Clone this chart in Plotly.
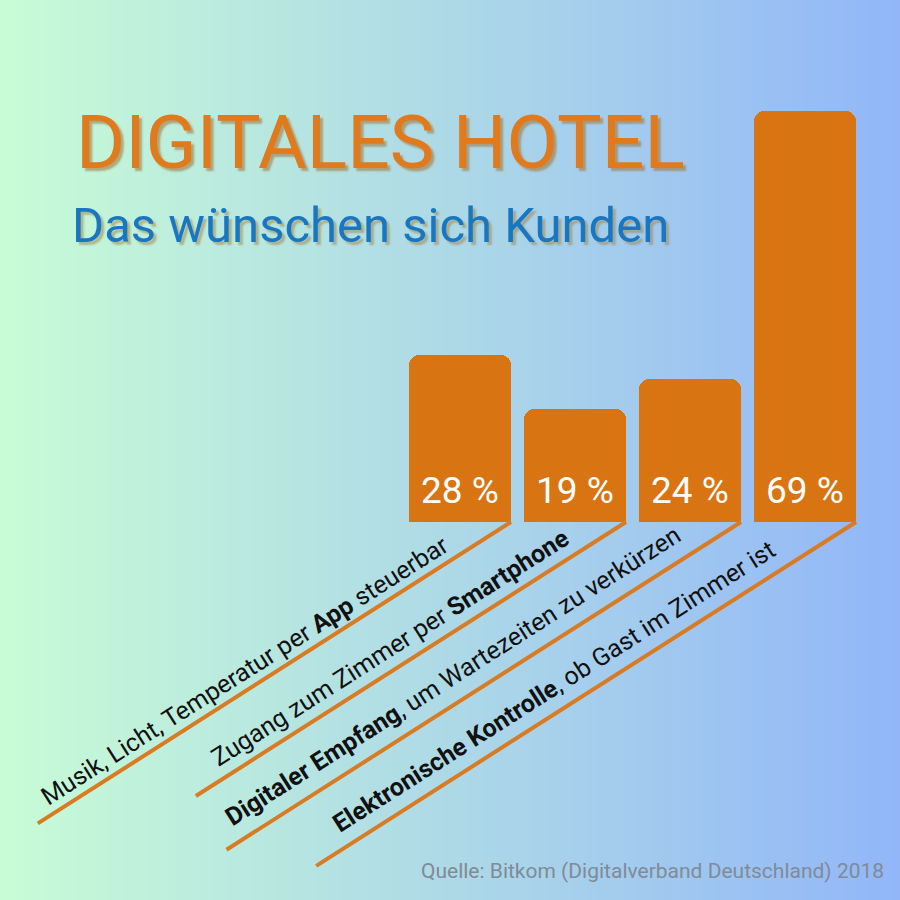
import math
import plotly.graph_objects as go

# ---- data ----
labels = [
    "Musik, Licht, Temperatur per <b>App</b> steuerbar",
    "Zugang zum Zimmer per <b>Smartphone</b>",
    "<b>Digitaler Empfang</b>, um Wartezeiten zu verkürzen",
    "<b>Elektronische Kontrolle</b>, ob Gast im Zimmer ist",
]
values = [28, 19, 24, 69]
value_texts = [f"{v} %" for v in values]
title = "DIGITALES HOTEL"
subtitle = "Das wünschen sich Kunden"
source = "Quelle: Bitkom (Digitalverband Deutschland) 2018"

# ---- styling / layout constants ----
W = H = 900
PX_PER_CAT = 115.0      # pixels between bar centres
PX_PER_UNIT = 5.96      # pixels per percent
BASE_PX = 522           # pixel row of the bar base
FIRST_CENTER_PX = 460   # pixel column of the first bar centre
BAR_W = 102 / PX_PER_CAT
ORANGE = "#d97412"
LINE_COL = "#d97b22"
ANGLE = 32.5
line_len_px = [561, 510, 610, 640]        # connector lengths
label_along_px = [257, 244, 285, 297]     # text centre along connector (from its lower end)
label_perp_px = [18, 21, 25, 23]          # text centre offset above connector

x_rng = [-FIRST_CENTER_PX / PX_PER_CAT, (W - FIRST_CENTER_PX) / PX_PER_CAT]
y_rng = [-(H - BASE_PX) / PX_PER_UNIT, BASE_PX / PX_PER_UNIT]

fig = go.Figure()

# background gradient (heatmap layer sits beneath bars)
fig.add_trace(go.Heatmap(
    x=[x_rng[0], x_rng[1]], y=[y_rng[0], y_rng[1]], z=[[0, 1], [0, 1]],
    zsmooth="best", colorscale=[[0, "#c8fcd6"], [1, "#92b6f8"]],
    showscale=False, hoverinfo="skip"))

xs = list(range(len(values)))
fig.add_trace(go.Bar(
    x=xs, y=values, width=BAR_W,
    marker=dict(color=ORANGE, line=dict(width=0), cornerradius=10),
    hoverinfo="skip", showlegend=False))

th = math.radians(ANGLE)
ux, uy = math.cos(th), math.sin(th)
annotations = []
for i, (lab, L, a, p) in enumerate(zip(labels, line_len_px, label_along_px, label_perp_px)):
    x_end = xs[i] + BAR_W / 2
    y_end = 0
    x_start = x_end - L * ux / PX_PER_CAT
    y_start = y_end - L * uy / PX_PER_UNIT
    fig.add_trace(go.Scatter(
        x=[x_start, x_end], y=[y_start, y_end], mode="lines",
        line=dict(color=LINE_COL, width=4), hoverinfo="skip", showlegend=False))
    cx_px = a * ux - p * uy
    cy_px = a * uy + p * ux
    annotations.append(dict(
        x=x_start + cx_px / PX_PER_CAT, y=y_start + cy_px / PX_PER_UNIT,
        xref="x", yref="y", text=lab, showarrow=False, textangle=-ANGLE,
        xanchor="center", yanchor="middle",
        font=dict(family="Roboto", size=25, color="#111111")))

for i, t in enumerate(value_texts):
    annotations.append(dict(
        x=xs[i], y=0, xref="x", yref="y", text=t, showarrow=False,
        xanchor="center", yanchor="bottom", yshift=8,
        font=dict(family="Roboto", size=37, color="white")))

annotations.append(dict(
    x=74 / W, y=1 - 142 / H, xref="paper", yref="paper", text=title,
    showarrow=False, xanchor="left", yanchor="middle",
    font=dict(family="Roboto", size=75, color="#e07a1c",
              shadow="3px 3px 2px rgba(160,120,60,0.6)")))
annotations.append(dict(
    x=70 / W, y=1 - 225 / H, xref="paper", yref="paper", text=subtitle,
    showarrow=False, xanchor="left", yanchor="middle",
    font=dict(family="Roboto", size=49, color="#1877c2",
              shadow="3px 3px 2px rgba(160,130,70,0.55)")))
annotations.append(dict(
    x=886 / W, y=1 - 871 / H, xref="paper", yref="paper", text=source,
    showarrow=False, xanchor="right", yanchor="middle",
    font=dict(family="Roboto", size=21, color="#7f8b98")))

fig.update_layout(
    width=W, height=H, margin=dict(l=0, r=0, t=0, b=0),
    paper_bgcolor="#b0dde8", plot_bgcolor="rgba(0,0,0,0)",
    xaxis=dict(range=x_rng, visible=False, fixedrange=True, domain=[0, 1]),
    yaxis=dict(range=y_rng, visible=False, fixedrange=True, domain=[0, 1]),
    annotations=annotations, showlegend=False, bargap=0)

fig.write_html("out.html")
